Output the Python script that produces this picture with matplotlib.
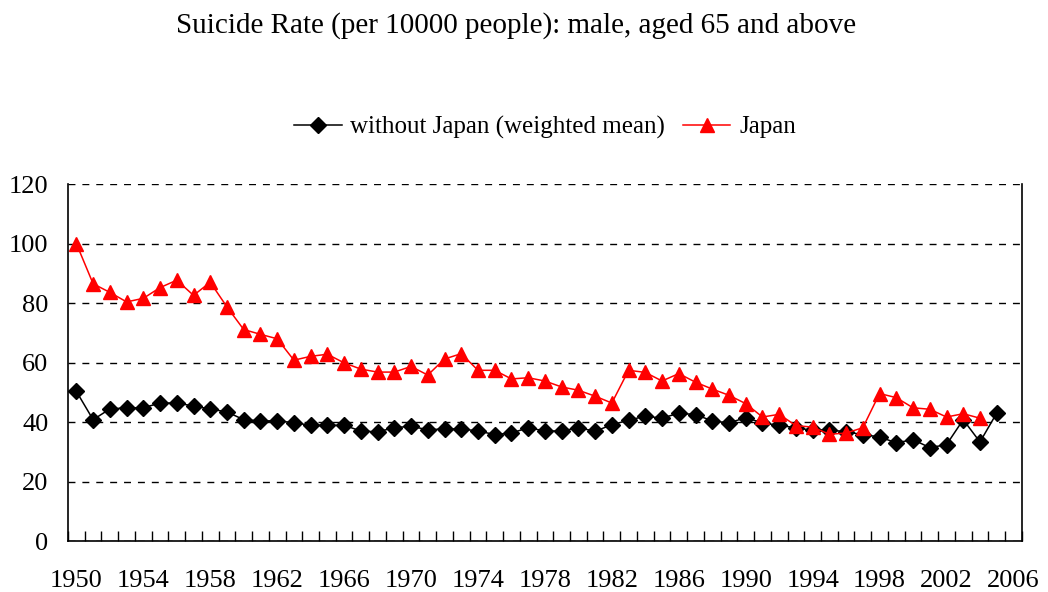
import matplotlib.pyplot as plt
import numpy as np

plt.rcParams['font.family'] = ['Liberation Serif', 'DejaVu Serif']

# 年度 (1950-2006, 2006 は空のカテゴリ)
years = list(range(1950, 2007))

# without Japan (weighted mean), 1950-2005
without_japan = [50.3, 40.8, 44.4, 44.8, 44.8, 46.4, 46.4, 45.4, 44.4, 43.4,
                 40.8, 40.4, 40.4, 39.8, 38.9, 38.9, 38.9, 37.0, 36.7, 38.1,
                 38.6, 37.4, 37.7, 37.7, 37.0, 35.8, 36.3, 38.1, 37.0, 37.0,
                 38.1, 36.9, 39.1, 40.6, 42.0, 41.3, 43.0, 42.5, 40.4, 39.7,
                 41.5, 39.7, 38.9, 38.1, 37.2, 37.4, 36.7, 35.8, 35.0, 33.0,
                 34.1, 31.4, 32.4, 40.8, 33.3, 43.0]

# Japan, 1950-2004
japan = [100.0, 86.5, 83.6, 80.4, 81.6, 85.2, 87.7, 82.6, 87.0, 78.7,
         71.1, 69.5, 68.0, 60.8, 62.1, 62.8, 59.9, 57.8, 56.8, 56.8,
         58.7, 55.8, 61.2, 63.0, 57.4, 57.4, 54.5, 54.9, 53.8, 51.8,
         50.7, 48.7, 46.4, 57.4, 56.7, 53.8, 56.3, 53.4, 51.1, 49.0,
         46.2, 41.7, 42.6, 38.8, 38.3, 35.9, 36.3, 38.1, 49.6, 48.2,
         44.8, 44.3, 41.7, 42.8, 41.3]

fig = plt.figure(figsize=(10.48, 5.92), dpi=100)
ax = fig.add_axes([0.0649, 0.0861, 0.9101, 0.6029])

x_all = np.arange(len(years))
ax.plot(x_all[:len(without_japan)], without_japan, color='black', lw=1.1,
        marker='D', markersize=8.5, label='without Japan (weighted mean)')
ax.plot(x_all[:len(japan)], japan, color='red', lw=1.1,
        marker='^', markersize=10.5, label='Japan')

ax.set_xlim(-0.5, len(years) - 0.5)
ax.set_ylim(0, 120)
ax.set_yticks(range(0, 121, 20))
ax.set_xticks(x_all[::4])
ax.set_xticklabels([str(y) for y in years[::4]])
ax.set_xticks(np.arange(-0.5, len(years)), minor=True)
ax.tick_params(axis='x', which='major', length=0, pad=21, labelsize=19)
ax.tick_params(axis='x', which='minor', direction='in', length=7, width=1)
ax.tick_params(axis='y', length=0, pad=14, labelsize=19)

ax.yaxis.grid(True, color='black', linestyle=(0, (5, 5)), lw=1)
ax.set_axisbelow(True)
for side in ['left', 'bottom', 'right']:
    ax.spines[side].set_linewidth(1.2)
ax.spines['top'].set_visible(False)

fig.text(0.492, 0.957, 'Suicide Rate (per 10000 people): male, aged 65 and above',
         ha='center', va='center', fontsize=21)
fig.legend(loc='center', bbox_to_anchor=(0.52, 0.785), ncol=2, frameon=False,
           fontsize=18, handlelength=1.9, columnspacing=0.7, handletextpad=0.35)

fig.savefig('out.png', dpi=100)
